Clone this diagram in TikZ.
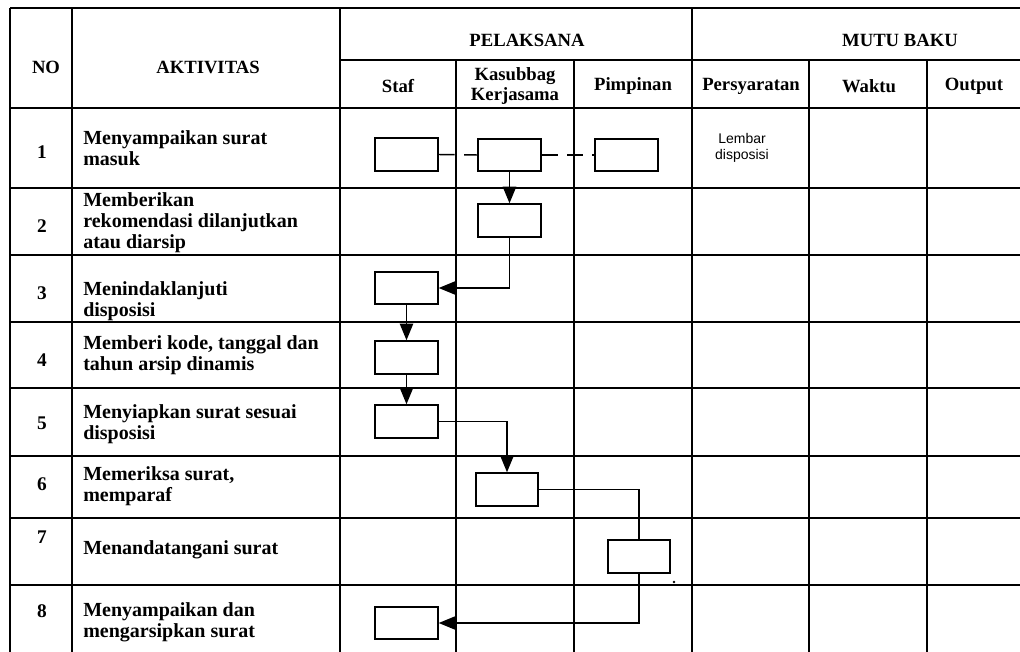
\documentclass[tikz,border=0pt]{standalone}
\usepackage{fontspec}
\setmainfont{Liberation Serif}
\newfontfamily\sansf{Liberation Sans}
\usetikzlibrary{arrows.meta}
\begin{document}
\begin{tikzpicture}[x=0.75pt,y=-0.75pt,
  grid/.style={line width=1.6pt},
  pbox/.style={draw,line width=1.3pt,minimum width=47pt,minimum height=24.5pt,inner sep=0pt},
  flow/.style={line width=1.1pt},
  arr/.style={flow,-{Triangle[length=12.5pt,width=10pt]}},
  dsh/.style={flow,dash pattern=on 12pt off 7pt},
  hd/.style={font=\bfseries\fontsize{14}{15.5}\selectfont,inner sep=0pt,align=center},
  act/.style={anchor=west,align=left,inner sep=0pt,font=\bfseries\fontsize{15}{15.8}\selectfont},
  num/.style={inner sep=0pt,font=\bfseries\fontsize{14.5}{15}\selectfont}]
\useasboundingbox (0,0) rectangle (1020,652);
% grid
\draw[grid] (10,8) -- (1020,8);
\draw[grid] (340,60) -- (1020,60);
\foreach \y in {108,188,255,322,388,456,518,585} \draw[grid] (10,\y) -- (1020,\y);
\foreach \x in {10,72,340,692} \draw[grid] (\x,8) -- (\x,652);
\foreach \x in {456,574,809,927} \draw[grid] (\x,60) -- (\x,652);
% headers
\node[hd] (hno) at (46,67) {NO};
\node[hd] (hakt) at (208,67) {AKTIVITAS};
\node[hd] (hpel) at (527,40) {PELAKSANA};
\node[hd] (hmutu) at (900,40) {MUTU BAKU};
\node[hd] (hstaf) at (398,86) {Staf};
\node[hd] (hkas) at (515,86) {Kasubbag\\Kerjasama};
\node[hd] (hpim) at (633,86) {Pimpinan};
\node[hd] (hper) at (751,86) {Persyaratan};
\node[hd] (hwak) at (869,86) {Waktu};
\node[hd] (hout) at (974,86) {Output};
% numbers
\node[num] (n1) at (42,152) {1};
\node[num] (n2) at (42,226) {2};
\node[num] (n3) at (42,293) {3};
\node[num] (n4) at (42,360) {4};
\node[num] (n5) at (42,423) {5};
\node[num] (n6) at (42,484) {6};
\node[num] (n7) at (42,537) {7};
\node[num] (n8) at (42,611) {8};
% activities
\node[act] (a1) at (83,148) {Menyampaikan surat\\masuk};
\node[act] (a2) at (83,223) {Memberikan\\rekomendasi dilanjutkan\\atau diarsip};
\node[act] (a3) at (83,301) {Menindaklanjuti\\disposisi};
\node[act] (a4) at (83,355) {Memberi kode, tanggal dan\\tahun arsip dinamis};
\node[act] (a5) at (83,424) {Menyiapkan surat sesuai\\disposisi};
\node[act] (a6) at (83,486) {Memeriksa surat,\\memparaf};
\node[act] (a7) at (83,550) {Menandatangani surat};
\node[act] (a8) at (83,622) {Menyampaikan dan\\mengarsipkan surat};
% requirement
\node[inner sep=0pt,align=center,font=\sansf\fontsize{10.5}{12}\selectfont] (req) at (742,148) {Lembar\\disposisi};
% boxes
\node[pbox] (b1s) at (406.5,154.5) {};
\node[pbox] (b1k) at (509.5,155) {};
\node[pbox] (b1p) at (626.5,155) {};
\node[pbox] (b2) at (509.5,220.5) {};
\node[pbox] (b3) at (406.5,288) {};
\node[pbox] (b4) at (406.5,357.5) {};
\node[pbox] (b5) at (406.5,421.5) {};
\node[pbox] (b6) at (507,489.5) {};
\node[pbox] (b7) at (639,556.5) {};
\node[pbox] (b8) at (406.5,623) {};
% connectors
\draw[dsh] (b1s.east) -- (b1k.west);
\draw[dsh] (b1k.east) -- (b1p.west);
\draw[arr] (b1k.south) -- (b2.north);
\draw[arr] (b2.south) |- (b3.east);
\draw[arr] (b3.south) -- (b4.north);
\draw[arr] (b4.south) -- (b5.north);
\draw[arr] (b5.east) -| (b6.north);
\draw[flow] (b6.east) -| (b7.north);
\draw[arr] (b7.south) |- (b8.east);
\fill (674,582) circle (1pt);
\end{tikzpicture}
\end{document}
